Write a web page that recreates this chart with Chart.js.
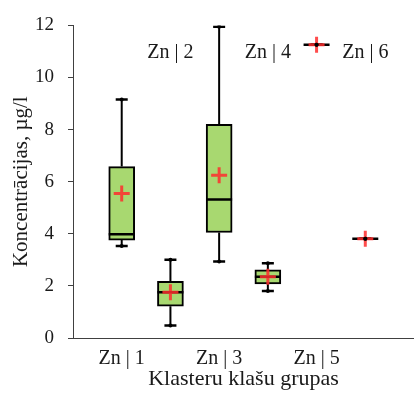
<!DOCTYPE html>
<html>
<head>
<meta charset="utf-8">
<script src="https://cdn.jsdelivr.net/npm/chart.js@4.4.0/dist/chart.umd.min.js"></script>
<style>
  html, body { margin: 0; padding: 0; background: #fff; overflow: hidden; }
  canvas { display: block; }
</style>
</head>
<body>
<canvas id="box" width="414" height="393" style="width:414px;height:393px"></canvas>
<script>
/* ── Data ── */
const CATEGORIES = ['Zn | 1', 'Zn | 2', 'Zn | 3', 'Zn | 4', 'Zn | 5', 'Zn | 6'];
const MIN    = [3.53, 0.48, 2.94, 1.80, 11.26, 3.81];
const Q1     = [3.76, 1.22, 4.05, 2.08, 11.26, 3.81];
const MEDIAN = [3.98, 1.76, 5.32, 2.35, 11.26, 3.81];
const Q3     = [6.58, 2.18, 8.20, 2.62, 11.26, 3.81];
const MAX    = [9.16, 3.00, 11.95, 2.87, 11.26, 3.81];
const MEAN   = [5.55, 1.76, 6.25, 2.35, 11.26, 3.81];
const Y_TICKS = [0, 2, 4, 6, 8, 10, 12];

const FONT = '"Liberation Serif", "Times New Roman", serif';
const TEXT = '#1a1a1a';
const AXIS = '#404040';

/* ── Build datasets ── */
const pos = i => i + 1;

const boxData = CATEGORIES.map((c, i) => ({ x: pos(i), y: [Q1[i], Q3[i]] }))
  .filter((d, i) => Q3[i] > Q1[i]);

// whiskers: box edge -> extreme, broken with nulls
const whiskerData = [];
CATEGORIES.forEach((c, i) => {
  whiskerData.push({ x: pos(i), y: Q3[i] }, { x: pos(i), y: MAX[i] }, { x: pos(i), y: null });
  whiskerData.push({ x: pos(i), y: Q1[i] }, { x: pos(i), y: MIN[i] }, { x: pos(i), y: null });
});

const capData = [];
CATEGORIES.forEach((c, i) => {
  capData.push({ x: pos(i), y: MIN[i] }, { x: pos(i), y: MAX[i] });
});

const medianData = CATEGORIES.map((c, i) => ({ x: pos(i), y: MEDIAN[i] }));
const meanData   = CATEGORIES.map((c, i) => ({ x: pos(i), y: MEAN[i] }));

/* ── Even labels sit inside the plot, near the top ── */
const topLabels = {
  id: 'topLabels',
  afterDraw(chart) {
    const { ctx, chartArea, scales: { x } } = chart;
    ctx.save();
    ctx.font = '20px ' + FONT;
    ctx.fillStyle = TEXT;
    ctx.textAlign = 'center';
    ctx.textBaseline = 'middle';
    CATEGORIES.forEach((c, i) => {
      if (i % 2 === 1) ctx.fillText(c, x.getPixelForValue(pos(i)), chartArea.top + 27);
    });
    ctx.restore();
  }
};

new Chart(document.getElementById('box'), {
  type: 'bar',
  data: {
    datasets: [
      {
        type: 'bar',
        data: boxData,
        backgroundColor: '#a8d870',
        borderColor: '#000',
        borderWidth: 2,
        borderSkipped: false,
        barThickness: 26,
        grouped: false,
        order: 6
      },
      {
        type: 'line',
        data: whiskerData,
        borderColor: '#000',
        borderWidth: 2,
        pointRadius: 0,
        spanGaps: false,
        fill: false,
        order: 5
      },
      {
        type: 'scatter',
        data: medianData,
        pointStyle: 'line',
        pointRadius: 13,
        borderColor: '#000',
        borderWidth: 2.5,
        order: 4
      },
      {
        type: 'scatter',
        data: capData,
        pointStyle: 'line',
        pointRadius: 6,
        borderColor: '#000',
        borderWidth: 2.5,
        order: 3
      },
      {
        type: 'scatter',
        data: meanData,
        pointStyle: 'cross',
        pointRadius: 8,
        borderColor: 'rgba(255, 45, 45, 0.85)',
        borderWidth: 3,
        order: 2
      },
      {
        type: 'scatter',
        data: capData,
        pointStyle: 'circle',
        pointRadius: 2,
        backgroundColor: '#000',
        borderColor: '#000',
        borderWidth: 0,
        order: 1
      }
    ]
  },
  options: {
    responsive: false,
    animation: false,
    layout: { autoPadding: false, padding: { top: 22, right: 0, left: 0, bottom: 0 } },
    plugins: { legend: { display: false }, tooltip: { enabled: false } },
    scales: {
      x: {
        type: 'linear',
        min: 0,
        max: CATEGORIES.length + 1,
        offset: false,
        afterFit: s => { s.height = 55; },
        afterBuildTicks: s => { s.ticks = CATEGORIES.map((c, i) => ({ value: pos(i) })).filter((t, i) => i % 2 === 0); },
        grid: { drawOnChartArea: false, drawTicks: false },
        border: { display: true, color: AXIS, width: 1 },
        ticks: {
          padding: 9,
          color: TEXT,
          font: { family: FONT, size: 20 },
          callback: v => CATEGORIES[v - 1]
        },
        title: {
          display: true,
          text: 'Klasteru klašu grupas',
          color: TEXT,
          font: { family: FONT, size: 22 },
          padding: { top: 0, bottom: 1 }
        }
      },
      y: {
        min: 0,
        max: 12,
        afterFit: s => { s.width = 73; },
        afterBuildTicks: s => { s.ticks = Y_TICKS.map(v => ({ value: v })); },
        grid: { drawOnChartArea: false, drawTicks: true, tickLength: 5, color: AXIS },
        border: { display: true, color: AXIS, width: 1 },
        ticks: {
          padding: 14,
          color: TEXT,
          font: { family: FONT, size: 19 }
        },
        title: {
          display: true,
          text: 'Koncentrācijas, µg/l',
          color: TEXT,
          font: { family: FONT, size: 21 },
          padding: { top: 9, bottom: 0 }
        }
      }
    }
  },
  plugins: [topLabels]
});
</script>
</body>
</html>
